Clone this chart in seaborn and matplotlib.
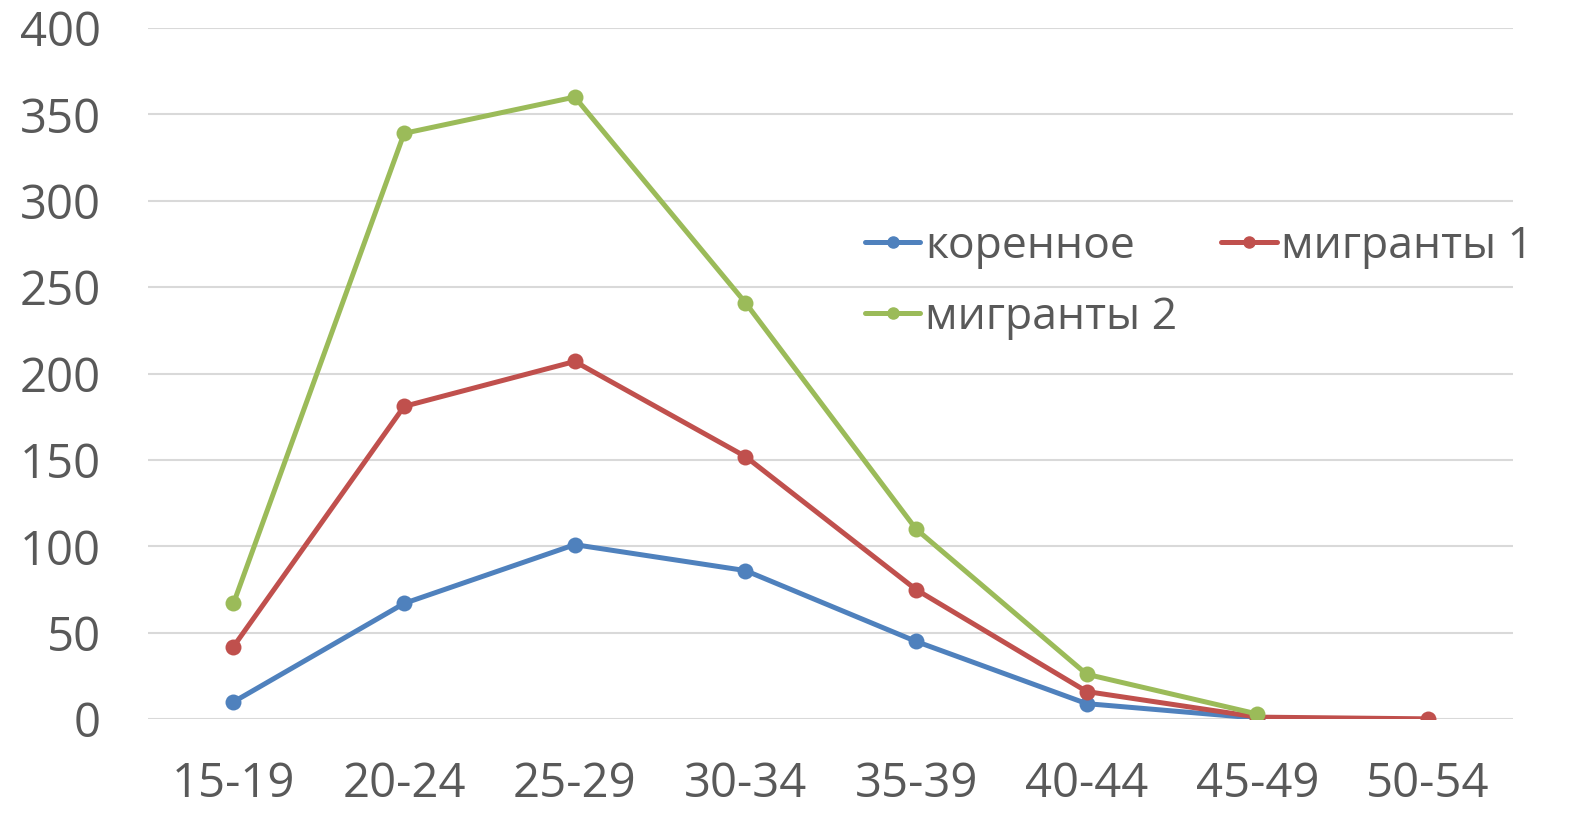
import pandas as pd
import matplotlib.pyplot as plt
import seaborn as sns

age_groups = ['15-19', '20-24', '25-29', '30-34', '35-39', '40-44', '45-49', '50-54']
native = [10, 67, 101, 86, 45, 9, 0.6, None]
migrants_1 = [42, 181, 207, 152, 75, 16, 1.2, 0.2]
migrants_2 = [67, 339, 360, 241, 110, 26, 3, None]

series_names = ['коренное', 'мигранты 1', 'мигранты 2']
colors = ['#4F81BD', '#C0504D', '#9BBB59']


def main():
    rows = []
    for name, vals in zip(series_names, [native, migrants_1, migrants_2]):
        for i, v in enumerate(vals):
            if v is not None:
                rows.append({'age': i, 'value': v, 'series': name})
    df = pd.DataFrame(rows)

    sns.set_theme(style="white")
    plt.rcParams['font.family'] = ['Open Sans', 'DejaVu Sans']

    fig = plt.figure(figsize=(15.93, 8.21), dpi=100)
    ax = fig.add_axes([0.093, 0.124, 0.857, 0.842])

    sns.lineplot(data=df, x='age', y='value', hue='series', hue_order=series_names,
                 palette=colors, marker='o', markersize=11.5, markeredgewidth=0,
                 linewidth=3.6, ax=ax, legend=False, zorder=3)

    ax.set_xlim(-0.5, 7.5)
    ax.set_ylim(0, 400)
    ax.set_yticks(range(0, 401, 50))
    ax.set_xticks(range(len(age_groups)))
    ax.set_xticklabels(age_groups)
    ax.yaxis.grid(True, color='#D9D9D9', linewidth=1.5, zorder=0)
    ax.set_axisbelow(True)
    for s in ax.spines.values():
        s.set_visible(False)
    ax.tick_params(axis='both', length=0, labelsize=34, labelcolor='#595959')
    ax.tick_params(axis='y', pad=34)
    ax.tick_params(axis='x', pad=30)
    ax.set_xlabel('')
    ax.set_ylabel('')

    # legend filled row by row: коренное, мигранты 1 / мигранты 2
    order = [0, 2, 1]
    handles = [plt.Line2D([], [], color=colors[i], marker='o', markersize=8, linewidth=3.6)
               for i in order]
    labels = [series_names[i] for i in order]
    ax.legend(handles, labels, ncol=2, frameon=False, fontsize=32,
              labelcolor='#595959', loc='upper left', bbox_to_anchor=(0.525, 0.716),
              borderaxespad=0, borderpad=0,
              handlelength=1.25, handletextpad=0.1, columnspacing=1.0,
              labelspacing=0.6)

    fig.savefig('out.png', dpi=100)


if __name__ == "__main__":
    main()
